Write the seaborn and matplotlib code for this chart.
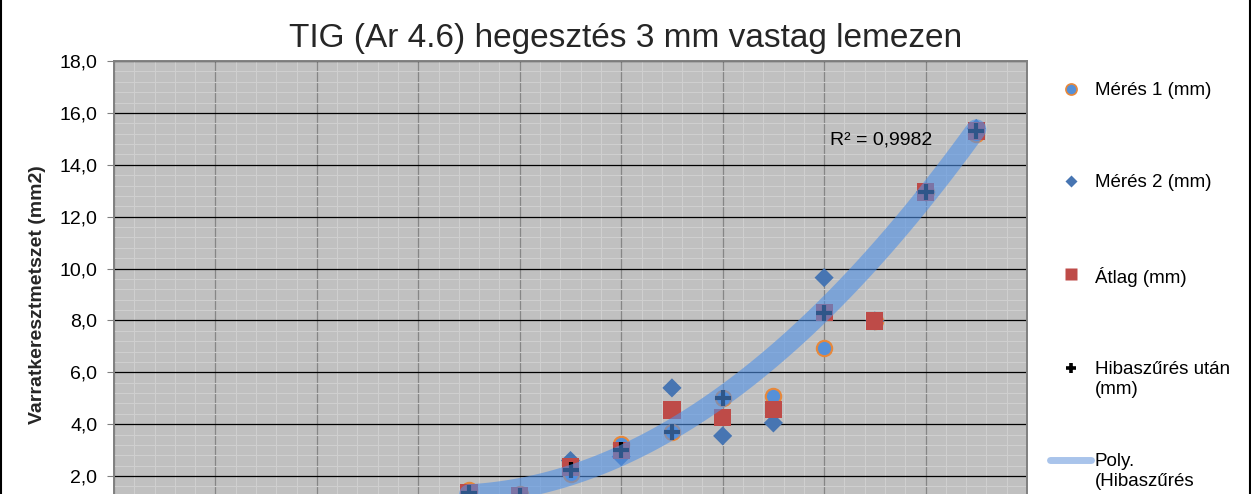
import numpy as np
import pandas as pd
import matplotlib
matplotlib.use("Agg")
import matplotlib.pyplot as plt
import seaborn as sns
from matplotlib.ticker import MultipleLocator, FixedLocator, FuncFormatter

# ---------------- data ----------------
x_vals = [35, 40, 45, 50, 55, 60, 65, 70, 75, 80, 85]
meres1 = [1.45, 1.30, 2.10, 3.25, 3.70, 5.00, 5.10, 6.95, 7.98, 12.95, 15.20]
meres2 = [1.25, 1.20, 2.60, 2.75, 5.40, 3.55, 4.05, 9.65, 7.98, 12.95, 15.40]
atlag = [1.35, 1.25, 2.35, 3.00, 4.55, 4.27, 4.57, 8.30, 7.98, 12.95, 15.30]
hiba = [1.35, 1.25, 2.25, 3.00, 3.70, 5.00, np.nan, 8.30, np.nan, 12.95, 15.30]

title = "TIG (Ar 4.6) hegesztés 3 mm vastag lemezen"
ylabel = "Varratkeresztmetszet (mm2)"
legend_labels = ["Mérés 1 (mm)", "Mérés 2 (mm)", "Átlag (mm)",
                 "Hibaszűrés után\n(mm)", "Poly.\n(Hibaszűrés\nután (mm))"]
r2_text = "R² = 0,9982"
y_ticks = [0, 2, 4, 6, 8, 10, 12, 14, 16, 18]
x_ticks = [0, 10, 20, 30, 40, 50, 60, 70, 80, 90]

# ---------------- style ----------------
sns.set_style("white")
plt.rcParams["font.family"] = ["Liberation Sans", "DejaVu Sans"]

W, H = 1251, 494
fig = plt.figure(figsize=(W / 100, H / 100), dpi=100)
fig.patch.set_facecolor("white")

# plot area: left 114px, right 1027px, top 61px (18.0), bottom 528px (0.0, below the crop)
left_px, right_px, top_px, bot_px = 114, 1027, 61, 528
ax = fig.add_axes([left_px / W, (H - bot_px) / H,
                   (right_px - left_px) / W, (bot_px - top_px) / H])
ax.set_facecolor("#c0c0c0")

c_circle = "#5590d8"
c_circle_edge = "#e8883a"
c_diamond = "#4775b2"
c_square = "#be4b48"
c_trend = "#5090e5"

sns.scatterplot(x=x_vals, y=meres1, marker="o", s=122, color=c_circle,
                edgecolor=c_circle_edge, linewidth=1.5, ax=ax, zorder=3)
sns.scatterplot(x=x_vals, y=meres2, marker="D", s=95, color=c_diamond,
                edgecolor="none", linewidth=0, ax=ax, zorder=4)
sns.scatterplot(x=x_vals, y=atlag, marker="s", s=152, color=c_square,
                edgecolor="none", linewidth=0, ax=ax, zorder=5)
sns.scatterplot(x=x_vals, y=hiba, marker="+", s=125, color="black",
                linewidth=3.0, ax=ax, zorder=6)

# polynomial (2nd order) trendline of the filtered series
sns.regplot(x=x_vals, y=hiba, order=2, ci=None, scatter=False, truncate=True,
            line_kws=dict(color=c_trend, alpha=0.6, lw=14.5,
                          solid_capstyle="round", zorder=7), ax=ax)

ax.text(70.6, 14.96, r2_text, ha="left", va="center", fontsize=14,
        color="black", zorder=8)

# axes
ax.set_xlim(x_ticks[0], x_ticks[-1])
ax.set_ylim(y_ticks[0], y_ticks[-1])
ax.xaxis.set_major_locator(FixedLocator(x_ticks))
ax.yaxis.set_major_locator(FixedLocator(y_ticks))
ax.xaxis.set_minor_locator(MultipleLocator(2))
ax.yaxis.set_minor_locator(MultipleLocator(0.4))
ax.yaxis.set_major_formatter(FuncFormatter(lambda v, p: f"{v:.1f}".replace(".", ",")))
ax.tick_params(axis="y", which="major", length=5, width=0.8, color="#808080",
               pad=7, labelsize=14, labelcolor="black", left=True)
# the x-axis labels lie below the cropped edge of the reference
ax.tick_params(axis="x", which="major", length=0, labelbottom=False)
ax.tick_params(which="minor", length=0)

ax.set_axisbelow(True)
ax.grid(which="minor", color="#cfcfcf", lw=0.8)
ax.grid(which="major", axis="x", color="#868686", lw=0.9)
ax.grid(which="major", axis="y", color="black", lw=0.9)
for s in ax.spines.values():
    s.set_color("#808080")
    s.set_linewidth(1.4)

ax.set_xlabel("")
ax.set_ylabel(ylabel, fontsize=14, fontweight="bold")
ax.yaxis.set_label_coords(-0.0745, 0.5)

fig.text(0.5, 1 - 47 / H, title, ha="center", va="baseline", fontsize=24)

# ---------------- legend (pixel overlay) ----------------
lax = fig.add_axes([0, 0, 1, 1], facecolor="none")
lax.set_xlim(0, W)
lax.set_ylim(H, 0)
lax.axis("off")

key_x, text_x = 1071, 1095
rows_y = [89, 181, 274, 368, 460]
lax.plot([key_x], [rows_y[0]], marker="o", ms=8, mfc=c_circle, mec=c_circle_edge, mew=1.2, ls="none")
lax.plot([key_x], [rows_y[1]], marker="D", ms=6, mfc=c_diamond, mec="none", ls="none")
lax.plot([key_x], [rows_y[2]], marker="s", ms=8, mfc=c_square, mec="none", ls="none")
lax.plot([key_x], [rows_y[3]], marker="+", ms=7.5, mec="black", mew=2.6, ls="none")
lax.plot([1050, 1091], [rows_y[4], rows_y[4]], color="#a9c4eb", lw=5, solid_capstyle="round")
fs_leg = 13.5
em = fs_leg * 100 / 72
for lab, yy in zip(legend_labels, rows_y):
    lax.text(text_x, yy - 0.37 * em, lab, ha="left", va="top", fontsize=fs_leg,
             color="black", linespacing=1.25)

# chart-area border (left & right edges)
lax.plot([0.8, 0.8], [0, H], color="black", lw=1.5)
lax.plot([W - 1.2, W - 1.2], [0, H], color="black", lw=1.5)

fig.savefig("out.png", dpi=100, facecolor="white")
